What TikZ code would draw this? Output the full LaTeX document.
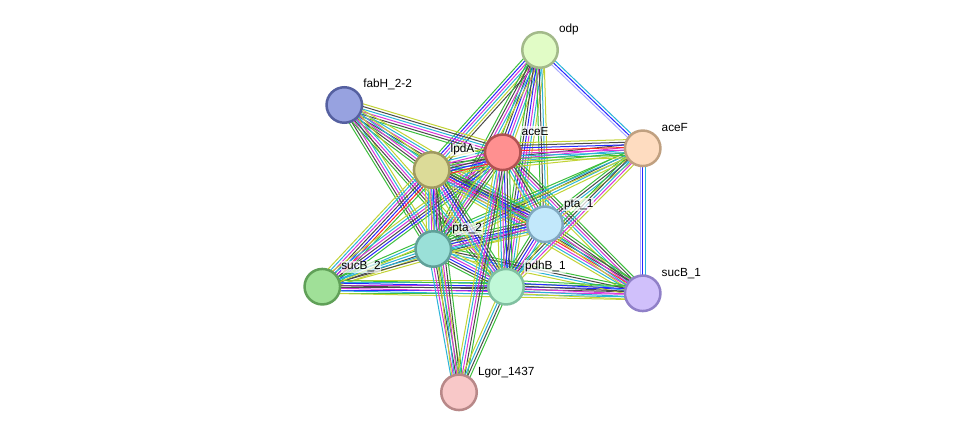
\documentclass[tikz,border=0pt]{standalone}
\usepackage{fontspec}
\setmainfont{Liberation Sans}
\usetikzlibrary{calc,backgrounds}
\definecolor{cG}{HTML}{3DBF3D}
\definecolor{cY}{HTML}{C2D335}
\definecolor{cC}{HTML}{2AB4D9}
\definecolor{cM}{HTML}{D936D9}
\definecolor{cK}{HTML}{4A4A4A}
\definecolor{cB}{HTML}{2828FF}
\definecolor{cR}{HTML}{FF2828}
\definecolor{cL}{HTML}{AAAAFF}
\definecolor{fodp}{HTML}{E1FCC6}\definecolor{dodp}{HTML}{A3BA8A}
\definecolor{ffab}{HTML}{97A2E0}\definecolor{dfab}{HTML}{5560A0}
\definecolor{fae}{HTML}{FF9090}\definecolor{dae}{HTML}{B05252}
\definecolor{faf}{HTML}{FEDCC0}\definecolor{daf}{HTML}{C0A080}
\definecolor{flp}{HTML}{DCDB98}\definecolor{dlp}{HTML}{A09A60}
\definecolor{fpa}{HTML}{C2E8FB}\definecolor{dpa}{HTML}{80A8C0}
\definecolor{fpb}{HTML}{9AE0D8}\definecolor{dpb}{HTML}{60A098}
\definecolor{fsb}{HTML}{A0E098}\definecolor{dsb}{HTML}{60A058}
\definecolor{fpd}{HTML}{C0F8D8}\definecolor{dpd}{HTML}{80C0A0}
\definecolor{fsa}{HTML}{D0C0FB}\definecolor{dsa}{HTML}{9080C8}
\definecolor{flg}{HTML}{F8C8C8}\definecolor{dlg}{HTML}{B88888}
\newcommand\bund[3]{%
  \foreach \cc [count=\ii] in {#3} {\xdef\nn{\ii}}%
  \foreach \cc [count=\ii] in {#3} {%
    \pgfmathsetmacro\off{(\ii-(\nn+1)/2)*2.6}%
    \draw[edgeline,\cc] ($(#1.center)!\off pt!90:(#2.center)$) -- ($(#2.center)!\off pt!-90:(#1.center)$);
  }}
\begin{document}
\begin{tikzpicture}[x=1pt,y=-1pt,
  prot/.style 2 args={circle,inner sep=0pt,minimum size=35.5pt,line width=2.5pt,fill=#1,draw=#2},
  lab/.style={anchor=base west,inner sep=0.8pt,fill=white,fill opacity=0.7,text opacity=1,font=\fontsize{11.8}{14}\selectfont},
  edgeline/.style={line width=1pt}]
\useasboundingbox (0,0) rectangle (975,438);
\node[prot={fodp}{dodp}] (odp) at (540,50) {};
\node[prot={ffab}{dfab}] (fabH) at (344.3,105) {};
\node[prot={fae}{dae}] (aceE) at (502.7,152.3) {};
\node[prot={faf}{daf}] (aceF) at (642.7,148.3) {};
\node[prot={flp}{dlp}] (lpdA) at (431.7,170) {};
\node[prot={fpa}{dpa}] (pta1) at (545,224.3) {};
\node[prot={fpb}{dpb}] (pta2) at (433.3,249) {};
\node[prot={fsb}{dsb}] (sucB2) at (322.3,286.7) {};
\node[prot={fpd}{dpd}] (pdhB) at (506,286.7) {};
\node[prot={fsa}{dsa}] (sucB1) at (642.7,293.3) {};
\node[prot={flg}{dlg}] (lgor) at (459,392.3) {};
\begin{pgfonlayer}{background}
\fill[white] (0,0) rectangle (975,438);
\bund{odp}{aceF}{cL,cB,cC}
\bund{aceF}{sucB1}{cL,cB,cC}
\bund{odp}{lpdA}{cG,cB,cM,cC,cY,cK}
\bund{odp}{aceE}{cG,cK,cB,cM,cC,cY}
\bund{odp}{pta2}{cG,cK,cM,cC,cY}
\bund{odp}{pdhB}{cG,cK,cB,cM,cC,cY}
\bund{odp}{pta1}{cG,cK,cC,cY}
\bund{fabH}{aceE}{cG,cK,cM,cC,cK,cY}
\bund{fabH}{pta1}{cG,cK,cM,cC,cY}
\bund{fabH}{lpdA}{cG,cK,cM,cC,cY}
\bund{fabH}{pta2}{cG,cK,cM,cC,cY}
\bund{fabH}{pdhB}{cG,cK,cM,cC,cY}
\bund{sucB2}{lpdA}{cG,cR,cB,cK,cM,cC,cY}
\bund{sucB2}{aceE}{cG,cB,cK,cM,cC,cY}
\bund{sucB2}{pta2}{cY,cK,cC,cG}
\bund{sucB2}{pta1}{cY,cK,cC}
\bund{sucB2}{pdhB}{cG,cB,cK,cM,cC,cY}
\bund{sucB1}{sucB2}{cG,cB,cK,cM,cC,cY}
\bund{sucB1}{aceE}{cG,cK,cM,cC,cY}
\bund{sucB1}{lpdA}{cG,cK,cR,cM,cC,cY}
\bund{sucB1}{pta1}{cG,cK,cM,cC,cY}
\bund{sucB1}{pta2}{cG,cK,cC,cY}
\bund{sucB1}{pdhB}{cG,cB,cK,cM,cC,cY}
\bund{aceF}{pta1}{cG,cK,cC,cY}
\bund{aceF}{pta2}{cG,cK,cC,cY}
\bund{aceF}{pdhB}{cG,cK,cC,cM,cY}
\bund{aceF}{sucB2}{cG,cC,cY}
\bund{lpdA}{aceF}{cY,cG,cC,cM,cK}
\bund{pta1}{pta2}{cG,cK,cB,cM,cC,cY}
\bund{pta1}{pdhB}{cG,cK,cB,cM,cC,cY}
\bund{pta1}{lpdA}{cG,cK,cB,cM,cC,cY}
\bund{pta1}{aceE}{cG,cK,cM,cC,cY}
\bund{pta2}{lpdA}{cG,cK,cB,cM,cC,cY}
\bund{pta2}{aceE}{cG,cK,cM,cC,cY}
\bund{pta2}{pdhB}{cG,cK,cB,cM,cC,cY}
\bund{pdhB}{lpdA}{cG,cK,cB,cM,cC,cY}
\bund{pdhB}{aceE}{cG,cK,cB,cM,cC,cY}
\bund{lgor}{pta2}{cY,cG,cK,cM,cC}
\bund{lgor}{lpdA}{cG,cK,cM,cC,cY}
\bund{lgor}{aceE}{cG,cK,cM,cC,cY}
\bund{lgor}{pdhB}{cG,cK,cC,cY}
\bund{lpdA}{aceE}{cR,cB,cK,cG,cM,cC,cY}
\bund{aceE}{aceF}{cY,cG,cC,cM,cR,cB,cK,cY}
\end{pgfonlayer}
\node[lab] (odp-l) at ($(odp.center)+(18,-17)$) {odp};
\node[lab] (fabH-l) at ($(fabH.center)+(18,-17)$) {fabH\_2-2};
\node[lab] (aceE-l) at ($(aceE.center)+(18,-17)$) {aceE};
\node[lab] (aceF-l) at ($(aceF.center)+(18,-17)$) {aceF};
\node[lab] (lpdA-l) at ($(lpdA.center)+(18,-17)$) {lpdA};
\node[lab] (pta1-l) at ($(pta1.center)+(18,-17)$) {pta\_1};
\node[lab] (pta2-l) at ($(pta2.center)+(18,-17)$) {pta\_2};
\node[lab] (sucB2-l) at ($(sucB2.center)+(18,-17)$) {sucB\_2};
\node[lab] (pdhB-l) at ($(pdhB.center)+(18,-17)$) {pdhB\_1};
\node[lab] (sucB1-l) at ($(sucB1.center)+(18,-17)$) {sucB\_1};
\node[lab] (lgor-l) at ($(lgor.center)+(18,-17)$) {Lgor\_1437};
\end{tikzpicture}
\end{document}
